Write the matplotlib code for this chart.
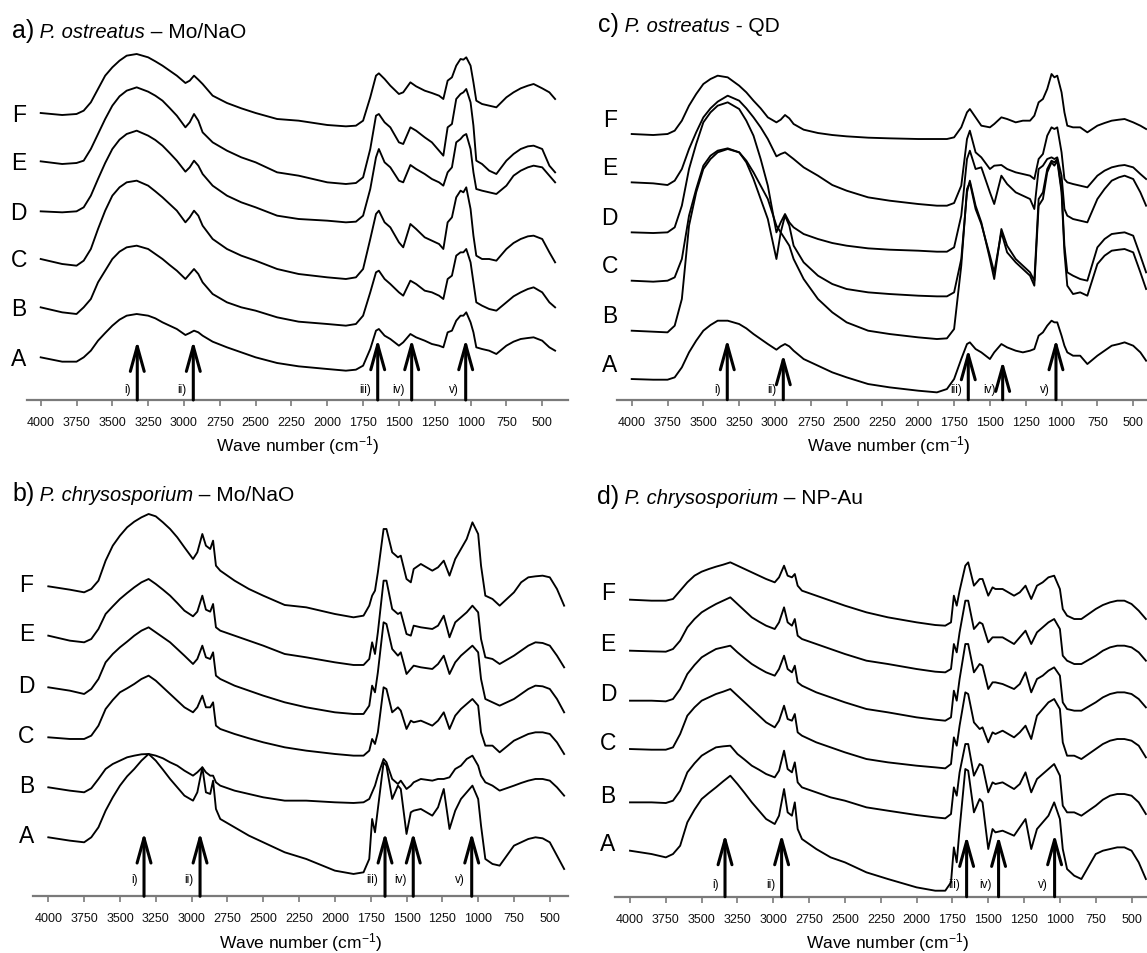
import matplotlib
matplotlib.use('Agg')
import matplotlib.pyplot as plt

plt.rcParams['font.family'] = ['Liberation Sans', 'DejaVu Sans']
plt.rcParams['mathtext.fontset'] = 'custom'
plt.rcParams['mathtext.rm'] = 'Liberation Sans'
plt.rcParams['mathtext.it'] = 'Liberation Sans:italic'

# ---------------- DATA (spectra; arbitrary transmittance-like units,
# larger value = lower on the plot) ----------------
wn_ac = ([4000, 3850, 3750, 3700, 3650, 3600, 3550, 3500, 3450, 3400, 3330, 3250, 3200, 3150, 3100, 3050,
          2990, 2960, 2930, 2900, 2870, 2800, 2700, 2600, 2500, 2350]
         + [2200, 2000, 1870, 1800, 1750, 1700, 1660, 1640, 1600, 1560, 1500, 1470, 1420, 1380, 1320, 1270,
            1220, 1190, 1160, 1130, 1100, 1070, 1050, 1030, 1000, 980, 960, 920, 870, 820,
            750, 700, 650, 600, 560, 500, 450, 410])

# panel a) P. ostreatus - Mo/NaO
a_F = ([222, 228, 225, 215, 190, 150, 110, 85, 65, 50, 45, 55, 67, 80, 95, 110, 132, 125, 110, 122, 135, 170,
        192, 208, 222, 240]
       + [245, 258, 262, 260, 245, 175, 110, 103, 120, 140, 165, 160, 130, 142, 155, 162, 170, 180, 125, 115,
          80, 60, 62, 55, 80, 130, 185, 195, 200, 205, 175, 160, 148, 140, 135, 148, 160, 180])
a_E = ([367, 375, 372, 365, 330, 285, 240, 200, 172, 155, 145, 158, 170, 185, 207, 230, 265, 250, 225, 245, 280,
        310, 335, 355, 370, 400]
       + [410, 430, 435, 432, 415, 330, 230, 225, 250, 265, 310, 315, 265, 275, 295, 310, 335, 350, 265, 255,
          180, 165, 160, 150, 190, 260, 365, 375, 395, 405, 365, 345, 330, 322, 320, 330, 380, 400])
a_D = ([517, 520, 517, 505, 470, 420, 372, 330, 302, 285, 275, 290, 303, 320, 342, 365, 398, 385, 365, 380, 405,
        440, 470, 490, 505, 530]
       + [540, 545, 550, 548, 530, 450, 355, 330, 370, 385, 425, 430, 378, 390, 405, 420, 430, 440, 400, 385,
          310, 300, 290, 285, 330, 400, 450, 455, 460, 465, 440, 410, 395, 385, 380, 385, 410, 430])
a_C = ([660, 675, 680, 665, 630, 570, 515, 470, 445, 430, 425, 440, 457, 475, 495, 515, 550, 535, 515, 530, 560,
        600, 630, 650, 665, 690]
       + [705, 715, 720, 715, 690, 600, 525, 515, 550, 565, 610, 625, 555, 570, 595, 605, 615, 630, 550, 535,
          475, 455, 460, 445, 510, 590, 650, 660, 660, 665, 630, 612, 600, 592, 590, 600, 640, 670])
a_B = ([805, 820, 825, 805, 780, 730, 695, 660, 638, 625, 620, 630, 645, 660, 678, 695, 720, 705, 690, 705, 730,
        765, 790, 805, 815, 835]
       + [848, 855, 860, 855, 830, 760, 700, 695, 720, 735, 760, 770, 725, 735, 755, 760, 770, 780, 720, 710,
          650, 640, 640, 630, 670, 730, 790, 800, 810, 815, 790, 772, 760, 750, 745, 760, 790, 805])
a_A = ([955, 968, 968, 955, 935, 905, 882, 860, 842, 830, 825, 830, 838, 850, 860, 870, 888, 882, 875, 880, 890,
        908, 925, 940, 955, 972]
       + [982, 990, 995, 992, 980, 930, 875, 870, 890, 900, 920, 910, 885, 895, 905, 915, 920, 925, 880, 875,
          845, 830, 830, 820, 850, 880, 925, 930, 935, 945, 920, 908, 900, 897, 895, 905, 925, 935])

# panel c) P. ostreatus - QD
c_F = ([225, 228, 225, 215, 185, 140, 105, 75, 60, 50, 55, 80, 100, 125, 148, 175, 190, 182, 168, 178, 195, 212,
        222, 228, 232, 236]
       + [238, 240, 240, 240, 235, 205, 160, 150, 175, 200, 205, 195, 175, 180, 190, 185, 185, 170, 130, 120,
          90, 45, 55, 50, 100, 160, 200, 205, 205, 220, 200, 192, 185, 182, 180, 190, 200, 210])
c_E = ([370, 373, 378, 365, 330, 270, 220, 175, 148, 128, 110, 125, 148, 175, 205, 240, 292, 285, 280, 290, 300,
        325, 350, 378, 395, 415]
       + [425, 435, 440, 440, 432, 380, 240, 215, 280, 295, 330, 320, 318, 330, 340, 345, 350, 360, 300, 285,
          230, 205, 210, 205, 280, 360, 370, 375, 380, 385, 350, 335, 325, 320, 318, 325, 345, 360])
c_D = ([520, 522, 520, 505, 440, 330, 255, 190, 160, 140, 130, 150, 185, 230, 300, 380, 520, 490, 465, 490, 505,
        525, 540, 552, 560, 568]
       + [572, 575, 578, 578, 565, 470, 300, 275, 330, 325, 400, 435, 350, 375, 400, 410, 420, 450, 330, 320,
          300, 295, 300, 295, 350, 450, 470, 480, 485, 490, 420, 390, 365, 355, 350, 360, 400, 440])
c_C = ([665, 668, 665, 655, 600, 470, 390, 320, 290, 275, 268, 280, 310, 360, 420, 480, 600, 520, 470, 500, 560,
        610, 650, 675, 690, 700]
       + [705, 710, 712, 712, 700, 600, 400, 365, 440, 490, 600, 660, 510, 560, 600, 620, 640, 665, 420, 400,
          330, 305, 310, 300, 390, 560, 640, 650, 660, 665, 565, 540, 525, 522, 520, 530, 590, 640])
c_B = ([815, 818, 820, 800, 720, 500, 400, 330, 300, 280, 270, 280, 305, 340, 380, 420, 500, 520, 540, 560, 600,
        660, 720, 760, 790, 815]
       + [825, 835, 840, 838, 810, 620, 390, 370, 450, 495, 590, 640, 520, 580, 610, 630, 650, 680, 440, 420,
          340, 310, 320, 305, 400, 580, 680, 705, 700, 710, 615, 590, 575, 572, 570, 580, 640, 690])
c_A = ([960, 962, 962, 955, 925, 880, 845, 815, 798, 785, 785, 795, 808, 825, 840, 855, 872, 862, 855, 862, 875,
        900, 920, 940, 955, 975]
       + [985, 995, 1000, 990, 960, 900, 855, 850, 870, 880, 900, 880, 855, 865, 875, 880, 875, 870, 830, 820,
          800, 785, 790, 790, 830, 860, 880, 890, 890, 915, 890, 875, 860, 855, 850, 860, 880, 905])

wn_bd = ([4000, 3850, 3750, 3700, 3650, 3600, 3550, 3500, 3450, 3400, 3350, 3300, 3250, 3200, 3150, 3100, 3050,
          2990, 2960, 2925, 2900, 2870, 2850, 2830, 2800, 2700, 2600, 2500, 2350]
         + [2200, 2000, 1870, 1800, 1760, 1740, 1720, 1700, 1660, 1640, 1600, 1560, 1540, 1500, 1470, 1450,
            1400, 1320, 1280, 1240, 1200, 1160, 1120, 1080, 1040, 1000, 980, 950, 900, 850,
            750, 700, 650, 600, 550, 500, 450, 400])

# panel b) P. chrysosporium - Mo/NaO
b_F = ([262, 272, 280, 270, 245, 185, 140, 110, 85, 68, 55, 45, 52, 70, 90, 115, 145, 180, 160, 105, 140, 150,
        125, 200, 215, 245, 270, 290, 318]
       + [325, 345, 355, 350, 320, 290, 275, 220, 90, 90, 160, 175, 170, 240, 250, 210, 195, 215, 205, 185,
          230, 180, 150, 120, 70, 105, 200, 290, 300, 320, 280, 250, 235, 232, 230, 235, 270, 320])
b_E = ([410, 425, 430, 420, 390, 345, 322, 300, 282, 265, 250, 240, 255, 272, 290, 312, 335, 352, 338, 290, 332,
        338, 315, 385, 395, 410, 425, 440, 465]
       + [475, 490, 498, 498, 480, 430, 465, 400, 245, 245, 330, 345, 340, 405, 410, 380, 385, 390, 380, 350,
          415, 370, 355, 340, 320, 340, 420, 475, 480, 495, 470, 455, 440, 430, 432, 440, 470, 505])
b_D = ([565, 575, 585, 570, 540, 490, 465, 445, 428, 410, 395, 385, 400, 415, 430, 450, 470, 495, 480, 440, 475,
        480, 460, 530, 540, 560, 575, 590, 610]
       + [625, 640, 645, 645, 620, 560, 580, 520, 370, 375, 450, 470, 460, 525, 510, 500, 505, 510, 495, 470,
          525, 490, 470, 455, 440, 460, 540, 600, 610, 620, 600, 585, 570, 560, 562, 570, 600, 640])
b_C = ([715, 720, 720, 710, 680, 630, 603, 580, 568, 555, 540, 530, 545, 565, 585, 605, 625, 640, 625, 590, 625,
        625, 610, 680, 690, 705, 718, 730, 745]
       + [755, 765, 770, 770, 755, 720, 735, 700, 565, 570, 640, 625, 635, 690, 665, 670, 665, 680, 665, 640,
          690, 650, 630, 615, 600, 620, 700, 740, 740, 760, 725, 715, 705, 700, 700, 705, 730, 765])
b_B = ([865, 875, 880, 868, 840, 810, 795, 785, 775, 770, 766, 765, 770, 778, 790, 800, 815, 830, 820, 805, 820,
        830, 830, 850, 860, 875, 885, 895, 905]
       + [905, 910, 912, 910, 900, 880, 860, 830, 780, 790, 840, 855, 845, 870, 860, 850, 840, 845, 840, 840,
          835, 810, 800, 780, 770, 800, 830, 850, 860, 875, 860, 852, 845, 840, 840, 845, 865, 890])
b_A = ([1015, 1025, 1030, 1015, 985, 935, 895, 860, 832, 810, 785, 765, 785, 812, 840, 865, 890, 905, 880, 805,
        880, 885, 845, 930, 960, 985, 1010, 1030, 1060]
       + [1080, 1115, 1125, 1120, 1080, 960, 1000, 930, 790, 800, 900, 860, 870, 1005, 940, 935, 930, 950, 925,
          870, 990, 935, 900, 880, 860, 900, 980, 1080, 1095, 1100, 1040, 1030, 1020, 1015, 1018, 1030, 1070,
          1110])

# panel d) P. chrysosporium - NP-Au
d_F = ([212, 215, 215, 210, 185, 160, 140, 128, 120, 113, 107, 100, 110, 120, 130, 140, 150, 160, 145, 110, 140,
        145, 135, 170, 185, 200, 215, 230, 250]
       + [265, 280, 288, 290, 280, 200, 230, 185, 110, 100, 170, 150, 150, 200, 175, 180, 180, 200, 190, 170,
          210, 170, 160, 145, 140, 180, 240, 260, 270, 270, 240, 228, 220, 215, 215, 225, 245, 270])
d_E = ([365, 367, 368, 360, 335, 295, 270, 250, 237, 225, 215, 205, 225, 245, 265, 278, 290, 300, 280, 235, 280,
        290, 270, 320, 330, 345, 360, 375, 395]
       + [405, 420, 428, 430, 420, 345, 370, 310, 215, 215, 300, 280, 285, 340, 325, 325, 325, 345, 325, 305,
          345, 310, 295, 280, 270, 300, 380, 395, 405, 405, 380, 365, 355, 350, 350, 355, 370, 395])
d_D = ([515, 515, 517, 510, 480, 435, 408, 385, 372, 360, 355, 350, 370, 388, 405, 418, 430, 440, 420, 380, 420,
        430, 410, 460, 470, 490, 505, 520, 540]
       + [550, 565, 572, 575, 565, 485, 515, 450, 345, 345, 430, 405, 410, 480, 460, 460, 465, 480, 465, 430,
          490, 450, 440, 425, 415, 440, 520, 540, 545, 545, 520, 505, 495, 490, 490, 495, 510, 535])
d_C = ([660, 662, 662, 655, 615, 560, 535, 515, 505, 495, 488, 480, 500, 520, 540, 560, 580, 595, 575, 530, 570,
        575, 555, 610, 620, 640, 655, 670, 690]
       + [700, 710, 715, 718, 705, 625, 650, 590, 490, 495, 580, 600, 595, 640, 610, 615, 605, 625, 610, 590,
          630, 560, 540, 520, 510, 540, 640, 680, 680, 690, 660, 645, 635, 630, 630, 635, 650, 685])
d_B = ([820, 820, 822, 815, 785, 730, 703, 680, 667, 655, 652, 650, 675, 692, 710, 722, 735, 745, 725, 665, 720,
        730, 700, 760, 775, 790, 805, 815, 835]
       + [845, 858, 865, 868, 855, 775, 800, 730, 645, 645, 740, 705, 710, 790, 760, 765, 760, 780, 765, 730,
          790, 750, 735, 720, 705, 740, 830, 850, 850, 860, 830, 812, 800, 795, 795, 800, 820, 855])
d_A = ([965, 975, 985, 975, 950, 880, 842, 810, 792, 775, 757, 740, 765, 792, 820, 845, 870, 885, 860, 780, 850,
        860, 820, 900, 930, 960, 985, 1000, 1030]
       + [1050, 1075, 1085, 1085, 1060, 955, 1000, 900, 720, 725, 850, 810, 820, 960, 900, 910, 905, 920, 895,
          870, 960, 900, 880, 860, 820, 870, 960, 1020, 1040, 1050, 975, 965, 960, 955, 955, 965, 1000, 1050])

curve_names = ['A', 'B', 'C', 'D', 'E', 'F']
band_labels = ['i)', 'ii)', 'iii)', 'iv)', 'v)']
tick_values = [4000, 3750, 3500, 3250, 3000, 2750, 2500, 2250, 2000, 1750, 1500, 1250, 1000, 750, 500]

arrow_wn_a = [3326, 2935, 1648, 1411, 1034]
arrow_tip_a = [905, 905, 900, 900, 900]
arrow_wn_c = [3333, 2942, 1651, 1411, 1039]
arrow_tip_c = [840, 885, 870, 905, 840]
arrow_wn_b = [3332, 2941, 1650, 1453, 1045]
arrow_tip_b = [1000, 1000, 1000, 1000, 1000]
arrow_wn_d = [3337, 2942, 1651, 1428, 1037]
arrow_tip_d = [915, 915, 920, 920, 915]

# ---------------- FIGURE ----------------
W, H = 1147, 954
fig = plt.figure(figsize=(W / 100, H / 100), dpi=100)


def add_axes_px(left, right, top, bottom):
    return fig.add_axes([left / W, 1 - bottom / H, (right - left) / W, (bottom - top) / H])


panels = [
    dict(box=(26.7, 568, 0, 401), xlim=(4097.7, 320), ylim=(1083, -120), wn=wn_ac,
         series=[a_A, a_B, a_C, a_D, a_E, a_F], arr=(arrow_wn_a, arrow_tip_a), lab_y=1050, dy=-1),
    dict(box=(616.7, 1161, 0, 400.7), xlim=(4104.7, 306), ylim=(1022, -180), wn=wn_ac,
         series=[c_A, c_B, c_C, c_D, c_E, c_F], arr=(arrow_wn_c, arrow_tip_c), lab_y=990, dy=15),
    dict(box=(33.3, 568, 477, 897.3), xlim=(4104.7, 373), ylim=(1192, -69), wn=wn_bd,
         series=[b_A, b_B, b_C, b_D, b_E, b_F], arr=(arrow_wn_b, arrow_tip_b), lab_y=1140, dy=2),
    dict(box=(615, 1161, 477, 897.7), xlim=(4104.7, 294.5), ylim=(1103, -159), wn=wn_bd,
         series=[d_A, d_B, d_C, d_D, d_E, d_F], arr=(arrow_wn_d, arrow_tip_d), lab_y=1065, dy=7),
]

axes_gray = '#7a7a7a'
for p in panels:
    ax = add_axes_px(*p['box'])
    ax.set_xlim(*p['xlim'])
    ax.set_ylim(*p['ylim'])
    ax.patch.set_alpha(0)
    for s in ['left', 'right', 'top']:
        ax.spines[s].set_visible(False)
    ax.spines['bottom'].set_color(axes_gray)
    ax.spines['bottom'].set_linewidth(1.6)
    ax.set_yticks([])
    ax.set_xticks(tick_values)
    ax.set_xticklabels([str(v) for v in tick_values])
    ax.tick_params(axis='x', direction='out', length=4.5, width=1.2, color=axes_gray,
                   labelsize=9, pad=7, labelcolor='#111111')
    ax.set_xlabel('Wave number (cm$^{-1}$)', fontsize=12.5, labelpad=4)

    for name, vals in zip(curve_names, p['series']):
        ax.plot(p['wn'], vals, color='black', lw=1.35, solid_joinstyle='round')
        ax.annotate(name, xy=(p['wn'][0], vals[0]), xytext=(-22, p['dy']),
                    textcoords='offset pixels', ha='center', va='center',
                    fontsize=16.5, annotation_clip=False)

    base = p['ylim'][0]
    for wn, tip, lab in zip(p['arr'][0], p['arr'][1], band_labels):
        ax.annotate('', xy=(wn, tip), xytext=(wn, base),
                    arrowprops=dict(arrowstyle='->,head_length=1.8,head_width=0.5',
                                    lw=2.2, color='black', shrinkA=0, shrinkB=0,
                                    mutation_scale=10))
        ax.text(wn + 45, p['lab_y'], lab, ha='right', va='center', fontsize=8.5)

# ---------------- TITLES ----------------
renderer = fig.canvas.get_renderer()


def title_chain(x_px, y_px, parts):
    x = x_px
    for s, size, style in parts:
        t = fig.text(x / W, 1 - y_px / H, s, fontsize=size, style=style,
                     ha='left', va='baseline')
        bb = t.get_window_extent(renderer=renderer)
        x = bb.x1


title_chain(12, 38, [('a)', 18, 'normal'), (' P. ostreatus', 14.5, 'italic'),
                     (' \u2013 Mo/NaO', 15, 'normal')])
title_chain(598, 32, [('c)', 18, 'normal'), (' P. ostreatus', 14.5, 'italic'),
                      (' - QD', 15, 'normal')])
title_chain(12, 501, [('b)', 18, 'normal'), (' P. chrysosporium', 14.5, 'italic'),
                      (' \u2013 Mo/NaO', 15, 'normal')])
title_chain(597, 504, [('d)', 18, 'normal'), (' P. chrysosporium', 14.5, 'italic'),
                       (' \u2013 NP-Au', 15, 'normal')])

fig.savefig('out.png', dpi=100)
